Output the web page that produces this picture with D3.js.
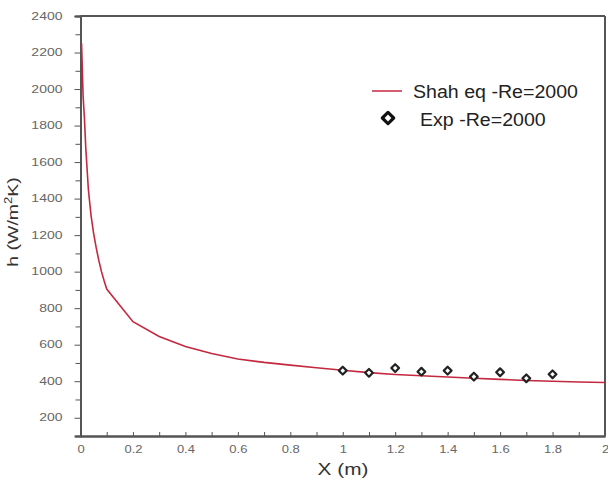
<!DOCTYPE html>
<html><head><meta charset="utf-8">
<script src="https://cdn.jsdelivr.net/npm/d3@7"></script>
<style>body{margin:0;background:#fff}svg{display:block}</style>
</head><body>
<svg id="c" width="608" height="480"></svg>
<script>
const shahX = [0.004,0.01,0.015,0.02,0.03,0.04,0.05,0.06,0.07,0.08,0.09,0.1,0.2,0.3,0.4,0.5,0.6,0.7,0.8,0.9,1.0,1.1,1.2,1.3,1.4,1.5,1.6,1.7,1.8,1.9,2.0];
const shahH = [2250,1960,1840,1680,1450,1310,1210,1130,1060,1000,950,905,726,645,590,552,522,503,488,474,460,447,437,430,423,416,410,404,400,396,393];
const expX = [1.0,1.1,1.2,1.3,1.4,1.5,1.6,1.7,1.8];
const expH = [458,446,472,452,458,425,449,416,438];
const xTicks = [0,0.2,0.4,0.6,0.8,1,1.2,1.4,1.6,1.8,2];
const yTicks = [200,400,600,800,1000,1200,1400,1600,1800,2000,2200,2400];
const legendLabels = ["Shah eq -Re=2000","Exp -Re=2000"];

const svg = d3.select("#c");
const x = d3.scaleLinear().domain([0,2]).range([80.5,605]);
const y = d3.scaleLinear().domain([100,2400]).range([436,16]);
const axisCol = "#555";
const font = "Liberation Sans, Arial, sans-serif";

svg.append("line").attr("x1",x(0)).attr("x2",x(2)).attr("y1",y(2400)).attr("y2",y(2400)).attr("stroke",axisCol).attr("stroke-width",2);
svg.append("line").attr("x1",x(2)).attr("x2",x(2)).attr("y1",y(2400)).attr("y2",y(100)).attr("stroke",axisCol).attr("stroke-width",2);

const ya = svg.append("g").attr("transform",`translate(${x(0)},0)`)
  .call(d3.axisLeft(y).tickValues(yTicks).tickSize(6).tickPadding(12).tickFormat(d3.format("d")));
ya.append("g").call(d3.axisLeft(y).tickValues(d3.range(300,2400,200)).tickSize(5).tickFormat(""));
const xa = svg.append("g").attr("transform",`translate(0,${y(100)})`)
  .call(d3.axisBottom(x).tickValues(xTicks).tickSizeInner(-4).tickSizeOuter(0).tickPadding(10).tickFormat(d=>d3.format("")(d)));
xa.append("g").call(d3.axisBottom(x).tickValues(d3.range(0.1,2,0.2)).tickSizeInner(-4).tickSizeOuter(0).tickFormat(""));
svg.selectAll(".domain").attr("stroke",axisCol).attr("stroke-width",2);
svg.selectAll(".tick line").attr("stroke",axisCol).attr("stroke-width",1);
svg.selectAll(".tick text").attr("fill","#666").style("font-family",font).style("font-size","10px");
ya.selectAll(".tick text").each(function(){
  const t = d3.select(this); const px = +t.attr("x");
  t.attr("x",0).attr("transform",`translate(${px},0) scale(1.4,1)`);
});
xa.selectAll(".tick text").attr("transform","scale(1.3,1)");

svg.append("path").datum(shahX.map((d,i)=>[d,shahH[i]]))
  .attr("d",d3.line().x(d=>x(d[0])).y(d=>y(d[1])))
  .attr("fill","none").attr("stroke","#c4283f").attr("stroke-width",1.6);

const sq = d3.symbol().type(d3.symbolSquare);
svg.selectAll(".pt").data(expX.map((d,i)=>[d,expH[i]])).enter().append("path")
  .attr("d",sq.size(30)())
  .attr("transform",d=>`translate(${x(d[0])},${y(d[1])}) rotate(45)`)
  .attr("fill","#fff").attr("stroke","#222").attr("stroke-width",2.2).attr("stroke-linejoin","round");

svg.append("line").attr("x1",372).attr("x2",402).attr("y1",91).attr("y2",91).attr("stroke","#c4283f").attr("stroke-width",1.5);
svg.append("text").attr("transform","translate(413,98) scale(1.12,1)").text(legendLabels[0]).attr("fill","#222").style("font-family",font).style("font-size","17.5px");
svg.append("path").attr("d",d3.symbol().type(d3.symbolSquare).size(64)())
  .attr("transform","translate(388,118) rotate(45)").attr("fill","#fff").attr("stroke","#111").attr("stroke-width",3.2).attr("stroke-linejoin","round");
svg.append("text").attr("transform","translate(420,126) scale(1.12,1)").text(legendLabels[1]).attr("fill","#222").style("font-family",font).style("font-size","17.5px");

svg.append("text").attr("transform","translate(343,475) scale(1.3,1)").attr("text-anchor","middle").text("X (m)")
  .attr("fill","#333").style("font-family",font).style("font-size","16px");
const yl = svg.append("text").attr("transform","translate(18,222) rotate(-90) scale(1.3,1)").attr("text-anchor","middle")
  .attr("fill","#333").style("font-family",font).style("font-size","15px");
yl.append("tspan").text("h (W/m");
yl.append("tspan").text("2").attr("font-size","10px").attr("dy","-6");
yl.append("tspan").text("K)").attr("dy","6");
</script>
</body></html>
